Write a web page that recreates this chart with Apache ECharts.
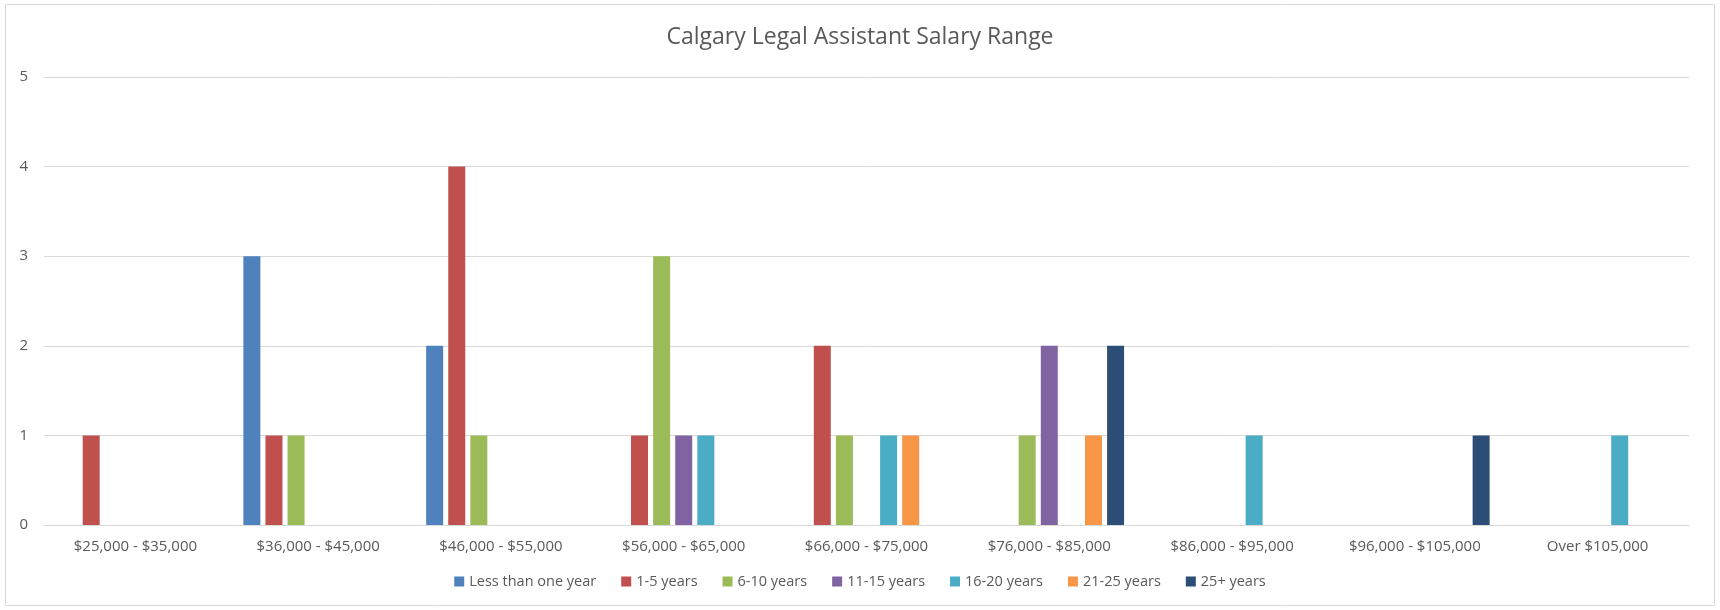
<!DOCTYPE html>
<html>
<head>
<meta charset="utf-8">
<script src="https://cdn.jsdelivr.net/npm/echarts@6/dist/echarts.min.js"></script>
<style>
  html, body { margin: 0; padding: 0; background: #fff; }
  #chart { width: 1720px; height: 610px; }
</style>
</head>
<body>
<div id="chart"></div>
<script>
// salary ranges on the x axis
const categories = ['$25,000 - $35,000', '$36,000 - $45,000', '$46,000 - $55,000', '$56,000 - $65,000',
  '$66,000 - $75,000', '$76,000 - $85,000', '$86,000 - $95,000', '$96,000 - $105,000', 'Over $105,000']

// counts per experience group
const lessThanOne = [0, 3, 2, 0, 0, 0, 0, 0, 0]
const years1to5 = [1, 1, 4, 1, 2, 0, 0, 0, 0]
const years6to10 = [0, 1, 1, 3, 1, 1, 0, 0, 0]
const years11to15 = [0, 0, 0, 1, 0, 2, 0, 0, 0]
const years16to20 = [0, 0, 0, 1, 1, 0, 1, 0, 1]
const years21to25 = [0, 0, 0, 0, 1, 1, 0, 0, 0]
const years25plus = [0, 0, 0, 0, 0, 2, 0, 1, 0]

const seriesNames = ['Less than one year', '1-5 years', '6-10 years', '11-15 years', '16-20 years', '21-25 years', '25+ years']
const seriesData = [lessThanOne, years1to5, years6to10, years11to15, years16to20, years21to25, years25plus]
const colors = ['#4F81BD', '#C0504D', '#9BBB59', '#8064A2', '#4BACC6', '#F79646', '#2C4D75']

const font = '"Open Sans", "Noto Sans", sans-serif'
const textColor = '#595959'
const lineColor = '#d9d9d9'

const myChart = echarts.init(document.getElementById('chart'))
const option = {
  animation: false,
  color: colors,
  title: {
    text: 'Calgary Legal Assistant Salary Range',
    left: 'center',
    top: 21,
    textStyle: { fontFamily: font, fontSize: 23, fontWeight: 'normal', color: textColor }
  },
  legend: {
    bottom: 16,
    left: 'center',
    itemWidth: 10,
    itemHeight: 10,
    itemGap: 25,
    icon: 'rect',
    textStyle: { fontFamily: font, fontSize: 14.5, color: textColor },
    data: seriesNames
  },
  grid: { left: 44, right: 31, top: 77, bottom: 85, containLabel: false },
  xAxis: {
    type: 'category',
    data: categories,
    axisLine: { lineStyle: { color: lineColor } },
    axisTick: { show: false },
    axisLabel: { fontFamily: font, fontSize: 15, color: textColor, margin: 14, interval: 0 }
  },
  yAxis: {
    type: 'value',
    min: 0,
    max: 5,
    interval: 1,
    axisLine: { show: false },
    axisTick: { show: false },
    axisLabel: { fontFamily: font, fontSize: 15, color: textColor, margin: 16 },
    splitLine: { lineStyle: { color: lineColor } }
  },
  graphic: [{
    type: 'rect',
    shape: { x: 5.5, y: 4.5, width: 1709, height: 601 },
    style: { fill: 'none', stroke: lineColor, lineWidth: 1 },
    silent: true
  }],
  series: seriesNames.map((name, i) => ({
    name: name,
    type: 'bar',
    data: seriesData[i],
    barWidth: 17,
    barGap: '30%'
  }))
}
myChart.setOption(option)
</script>
</body>
</html>
